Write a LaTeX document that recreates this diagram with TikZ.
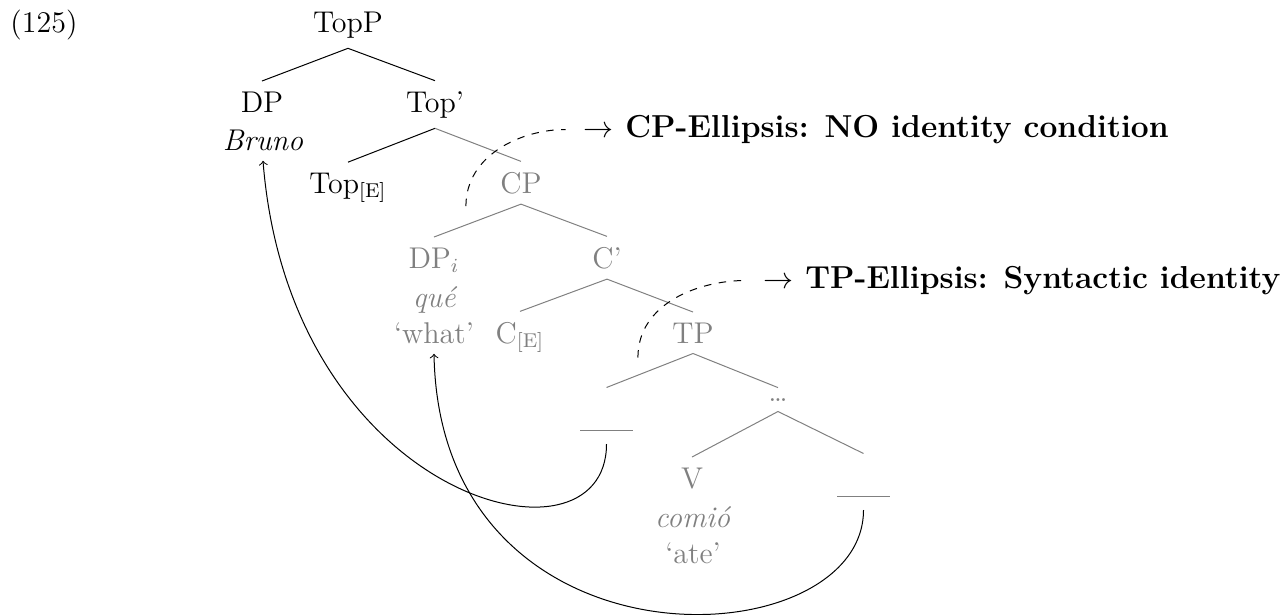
\documentclass[12pt,tikz,border=0pt]{standalone}
\usepackage{tikz}
\usetikzlibrary{positioning}
\definecolor{elided}{gray}{0.5}

\begin{document}
\begin{tikzpicture}[
    x=0.4pt, y=-0.4pt,
    lab/.style={anchor=base},
    gone/.style={anchor=base, text=elided},
    blank/.style={anchor=base, text=elided, text height=13.2pt, text depth=1pt},
    gbranch/.style={draw=elided},
    note/.style={anchor=west, font=\fontsize{12.7pt}{15pt}\selectfont\bfseries}
  ]
    \useasboundingbox (0,0) rectangle (1286,614);
    \node[anchor=base west] (exno) at (0,32) {(125)};

    % visible part
    \node[lab] (topp) at (348,32) {TopP};
    \node[lab] (dp) at (262,112) {DP};
    \node[lab] (bruno) at (263,150) {\textit{Bruno}};
    \node[lab] (topbar) at (435,112) {Top'};
    \node[lab] (tope) at (348,193) {Top\textsubscript{[E]}};

    % elided part
    \node[gone] (cp) at (521,193) {CP};
    \node[gone] (dpi) at (434,268) {DP$_i$};
    \node[gone] (que) at (435,307) {\textit{qué}};
    \node[gone] (what) at (434,343) {`what'};
    \node[gone] (cbar) at (607,268) {C'};
    \node[gone] (ce) at (520,343) {C\textsubscript{[E]}};
    \node[gone] (tp) at (693,343) {TP};
    \node[blank] (tr1) at (606.5,431) {\rule{21pt}{0.4pt}};
    \node[gone] (dots) at (778,401) {\dots};
    \node[gone] (v) at (692,488) {V};
    \node[gone] (comio) at (693,527) {\textit{comió}};
    \node[gone] (ate) at (693,563) {`ate'};
    \node[blank] (tr2) at (863.5,497) {\rule{21pt}{0.4pt}};

    \draw (topp.south) -- (dp.north);
    \draw (topp.south) -- (topbar.north);
    \draw (topbar.south) -- (tope.north);
    \draw[gbranch] (topbar.south) -- (cp.north);
    \draw[gbranch] (cp.south) -- (dpi.north);
    \draw[gbranch] (cp.south) -- (cbar.north);
    \draw[gbranch] (cbar.south) -- (ce.north);
    \draw[gbranch] (cbar.south) -- (tp.north);
    \draw[gbranch] (tp.south) -- (tr1.north);
    \draw[gbranch] (tp.south) -- (dots.north);
    \draw[gbranch] (dots.south) -- (v.north);
    \draw[gbranch] (dots.south) -- (tr2.north);

    % ellipsis sites
    \node[note] (cplab) at (573,129.5) {$\rightarrow$ CP-Ellipsis: NO identity condition};
    \node[note] (tplab) at (753,280.5) {$\rightarrow$ TP-Ellipsis: Syntactic identity};
    \coordinate (cpsite) at ([shift={(-24,2)}]cp.south west);
    \coordinate (tpsite) at ([shift={(-24,4)}]tp.south west);
    \draw[dashed, shorten >=3pt] (cpsite) to[out=90, in=180] (cplab.west);
    \draw[dashed, shorten >=3pt] (tpsite) to[out=90, in=180] (tplab.west);

    % movement
    \draw[->] (tr1.south) .. controls +(0,136) and +(27,340) .. (bruno.south);
    \draw[->] (tr2.south) .. controls +(0,150) and +(6,327) .. (what.south);
  \end{tikzpicture}
\end{document}
